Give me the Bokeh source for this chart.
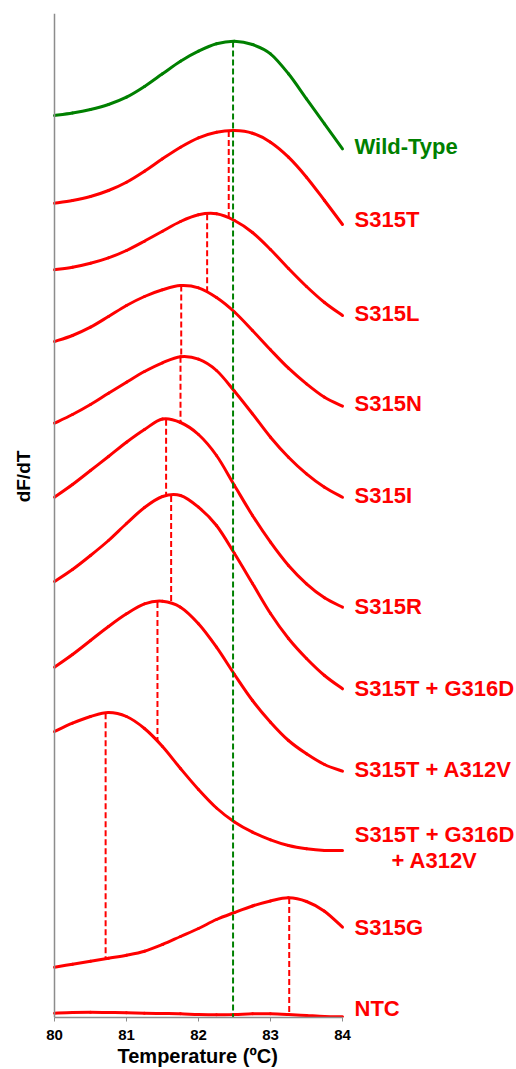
import math
import numpy as np
from bokeh.plotting import figure
from bokeh.models import Range1d, Label, FixedTicker, Span, Title
from bokeh.embed import file_html
from bokeh.resources import INLINE

# Temperature grid (°C)
temps = [80.0, 80.25, 80.5, 80.75, 81.0, 81.25, 81.5, 81.75, 82.0,
         82.25, 82.5, 82.75, 83.0, 83.25, 83.5, 83.75, 84.0]

# dF/dT melt curves (stacked, arbitrary units)
wild_type = [902, 904.5, 908, 913, 920.3, 931, 943.7, 956.3, 966.3,
             973.7, 976.3, 973, 963.7, 943.7, 918.7, 893.7, 868.7]
s315t = [814.3, 817, 821, 827, 835.3, 846.3, 858.7, 870.3, 879.7,
         885.3, 887, 884.3, 875.3, 860.3, 840.3, 817, 793]
s315l = [747.7, 750.3, 754.3, 759.7, 767, 776.3, 786.3, 796, 802.7,
         803.7, 797, 785, 768, 749, 731, 715, 702]
s315n = [676, 682, 690.3, 701, 712, 721, 727.7, 732, 729.7,
         720, 705.5, 687, 667.7, 649.3, 633.7, 620.3, 611.3]
s315i = [594.3, 603, 613, 624.3, 635.3, 646, 654.7, 660.7, 658.3,
         647, 626.3, 603.7, 580.3, 560.3, 543.7, 530.3, 520.3]
s315r = [520.3, 533, 547, 561, 575.3, 588, 598.5, 595, 583,
         562, 532, 502, 475.3, 452, 433.7, 419.7, 410.3]
s315t_g316d = [436, 448, 462, 477, 494, 510, 521, 522, 510.3,
               492, 464, 434, 404, 379, 359, 342, 328.7]
s315t_a312v = [350.3, 363, 377, 391, 403.7, 413.7, 416.3, 410.3, 393.7,
               370.3, 343, 317, 295.3, 277, 263.7, 253, 246.3]
s315t_g316d_a312v = [286, 294.3, 301, 305, 301, 289, 271, 249, 228,
                     209.5, 195.5, 185.3, 177.7, 172, 168.7, 167, 167]
s315g = [50.3, 53.3, 56.3, 59.3, 62.3, 66.3, 73, 81, 89,
         98, 105, 111.5, 116.5, 119.7, 116, 106.3, 90.3]
ntc = [4.3, 5, 5.3, 5, 4.7, 4.3, 4, 3.7, 3,
       2.7, 3, 3.7, 3.7, 3, 2, 1, 0.7]

names = ["Wild-Type", "S315T", "S315L", "S315N", "S315I", "S315R",
         "S315T + G316D", "S315T + A312V", "S315T + G316D\n+ A312V",
         "S315G", "NTC"]
# melting peaks (Tm, °C); NTC has none
peak_tm = [82.48, 82.42, 82.12, 81.76, 81.75, 81.55, 81.62, 81.43, 80.71, 83.26]

x_ticks = [80, 81, 82, 83, 84]

curves = [wild_type, s315t, s315l, s315n, s315i, s315r, s315t_g316d,
          s315t_a312v, s315t_g316d_a312v, s315g, ntc]

GREEN = "#008000"
RED = "#FF0000"
GREY = "#8c8c8c"
FONT = "Liberation Sans"
colors = [GREEN] + [RED] * 10

# label placement (data y of each label's centre)
label_y = [871, 798, 703.7, 613.7, 522, 411.3, 328.7, 248, 170, 90.3, 8.7]

PX = 72.0  # pixels per degree
p = figure(width=516, height=1069, output_backend="svg", toolbar_location=None,
           x_range=Range1d(80 - 54 / PX, 84 + 174 / PX), y_range=Range1d(0, 1004),
           min_border_left=0, min_border_right=0, min_border_top=13,
           min_border_bottom=52)
p.outline_line_color = None
p.xgrid.visible = False
p.ygrid.visible = False
p.background_fill_color = "white"
p.border_fill_color = "white"


def smooth_segments(xs, ys):
    """Catmull-Rom -> cubic Bezier control points through the read points."""
    xs = np.asarray(xs, float); ys = np.asarray(ys, float)
    n = len(xs)
    X = np.concatenate([[xs[0]], xs, [xs[-1]]])
    Y = np.concatenate([[ys[0]], ys, [ys[-1]]])
    x0 = X[1:n]; y0 = Y[1:n]; x1 = X[2:n + 1]; y1 = Y[2:n + 1]
    cx0 = x0 + (X[2:n + 1] - X[0:n - 1]) / 6; cy0 = y0 + (Y[2:n + 1] - Y[0:n - 1]) / 6
    cx1 = x1 - (X[3:n + 2] - X[1:n]) / 6; cy1 = y1 - (Y[3:n + 2] - Y[1:n]) / 6
    return x0, y0, x1, y1, cx0, cy0, cx1, cy1


for c, col in zip(curves, colors):
    x0, y0, x1, y1, cx0, cy0, cx1, cy1 = smooth_segments(temps, c)
    p.bezier(x0=x0, y0=y0, x1=x1, y1=y1, cx0=cx0, cy0=cy0, cx1=cx1, cy1=cy1,
             line_color=col, line_width=3, line_cap="round")

# dashed Tm drop lines: from each peak down to the next curve (WT down to axis)
dx, dtop, dbot = [], [], []
for i, tm in enumerate(peak_tm):
    top = float(np.interp(tm, temps, curves[i]))
    bot = 0.0 if i == 0 else float(np.interp(tm, temps, curves[i + 1]))
    dx.append(tm); dtop.append(top); dbot.append(bot)

p.segment(dx[1:], dtop[1:], dx[1:], dbot[1:], line_color=RED, line_width=2, line_dash="6 3")
p.segment(dx[:1], dtop[:1], dx[:1], dbot[:1], line_color=GREEN, line_width=2, line_dash="6 3")

# axes
p.xaxis.bounds = (x_ticks[0], x_ticks[-1])
p.xaxis.ticker = FixedTicker(ticks=x_ticks)
p.xaxis.minor_tick_line_color = None
p.xaxis.major_tick_in = 0
p.xaxis.major_tick_out = 4
p.xaxis.major_tick_line_color = GREY
p.xaxis.axis_line_color = GREY
p.xaxis.axis_line_width = 1.5
p.xaxis.major_label_text_font = FONT
p.xaxis.major_label_text_font_style = "bold"
p.xaxis.major_label_text_font_size = "15px"
p.xaxis.major_label_text_color = "black"
p.xaxis.major_label_standoff = 8

p.add_layout(Title(text="Temperature (ºC)", align="left", offset=117, standoff=0,
                   text_font=FONT, text_font_style="bold", text_font_size="20px",
                   text_color="black"), "below")

p.yaxis.visible = False
p.add_layout(Span(location=x_ticks[0], dimension="height", line_color=GREY, line_width=1.5))

p.add_layout(Label(x=80 - 30.7 / PX, y=541, text="dF/dT", angle=math.pi / 2,
                   text_align="center", text_baseline="middle",
                   text_font=FONT, text_font_style="bold", text_font_size="19px",
                   text_color="black"))

lab_x = 84 + 12 / PX
for nm, col, ly in zip(names, colors, label_y):
    if "\n" in nm:
        cx = 84 + (434 - 342) / PX
        for k, ln in enumerate(nm.split("\n")):
            p.add_layout(Label(x=cx, y=ly + 13 - 26 * k, text=ln, text_align="center",
                               text_baseline="middle", text_font=FONT,
                               text_font_style="bold", text_font_size="22px",
                               text_color=col))
    else:
        p.add_layout(Label(x=lab_x, y=ly, text=nm, text_align="left",
                           text_baseline="middle", text_font=FONT,
                           text_font_style="bold", text_font_size="22px",
                           text_color=col))

open("out.html", "w").write(file_html(p, INLINE))
